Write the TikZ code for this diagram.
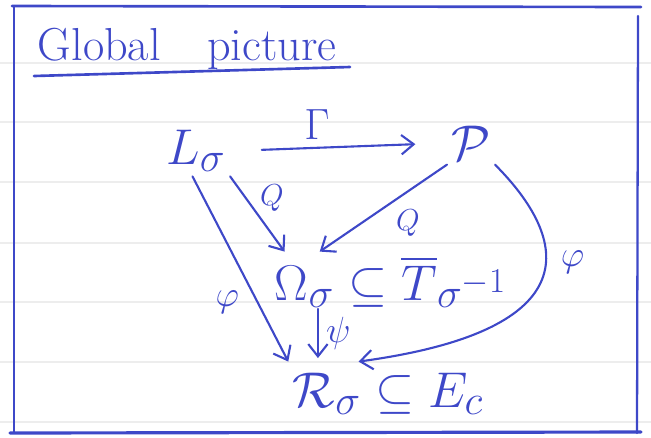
\documentclass[tikz,border=0pt]{standalone}
\usepackage{amsmath,amssymb}
\usepackage{xcolor}
\usetikzlibrary{arrows.meta}
\definecolor{ink}{RGB}{62,72,200}

\begin{document}
\begin{tikzpicture}[x=0.02cm,y=-0.02cm,
        obj/.style={text=ink,font=\Huge,scale=1.15,inner sep=2pt},
        lab/.style={text=ink,font=\huge,inner sep=2pt},
        map/.style={draw=ink,line width=1.2pt,line cap=round,-{Straight Barb[length=7pt,width=11pt]}}]
        \useasboundingbox (0,0) rectangle (651,437);
        % ruled paper
        \foreach \y in {63,122,182,243,302,362,422}
            \draw[gray!14,line width=0.6pt] (0,\y) -- (651,\y);
        % frame
        \draw[ink,line width=1.5pt,line cap=round] (12,6) -- (641,7);
        \draw[ink,line width=1.3pt,line cap=round] (14,6) -- (14,433);
        \draw[ink,line width=1.3pt,line cap=round] (638,16) -- (637,433);
        \draw[ink,line width=1.8pt,line cap=round] (10,433) -- (641,432);
        % title
        \node[text=ink,font=\huge,scale=1.27,anchor=base west] at (30,60) (title) {Global\hspace{1.0em}picture};
        \draw[ink,line width=1.5pt,line cap=round] (34,76) -- (350,67);
        % objects
        \node[obj] at (196,151) (L) {$L_\sigma$};
        \node[obj] at (471,143) (P) {$\mathcal{P}$};
        \node[obj] at (391,282) (O) {$\Omega_\sigma\subseteq\overline{T}{}_{\smash[t]{\sigma^{-1}}}$};
        \node[obj] at (388,394) (R) {$\mathcal{R}_\sigma\subseteq E_c$};
        \coordinate (psi) at ([xshift=27pt,yshift=2pt]O.south west);
        % maps
        \draw[map,shorten <=18pt,shorten >=18pt] (L.east) -- node[lab,font=\Huge,pos=0.4,above=2pt] {$\Gamma$} (P.west);
        \draw[map] (L.south east) -- node[lab,font=\LARGE,pos=0.5,above right=-1pt] {$Q$} ([xshift=8pt]O.north west);
        \draw[map] (P.south west) -- node[lab,font=\LARGE,pos=0.45,below right=1pt] {$Q$} ([xshift=28pt]O.north west);
        \draw[map] ([xshift=-2pt]L.south) -- node[lab,pos=0.68,left=8pt] {$\varphi$} ([yshift=4pt]R.north west);
        \draw[map] (psi) -- node[lab,right=2pt] {$\psi$} ([yshift=6pt]psi |- R.north);
        \draw[map] (P.south east) .. controls (570,240) and (590,330) .. node[lab,pos=0.42,right=6pt] {$\varphi$} ([xshift=40pt,yshift=4pt]R.north west);
    \end{tikzpicture}
\end{document}
